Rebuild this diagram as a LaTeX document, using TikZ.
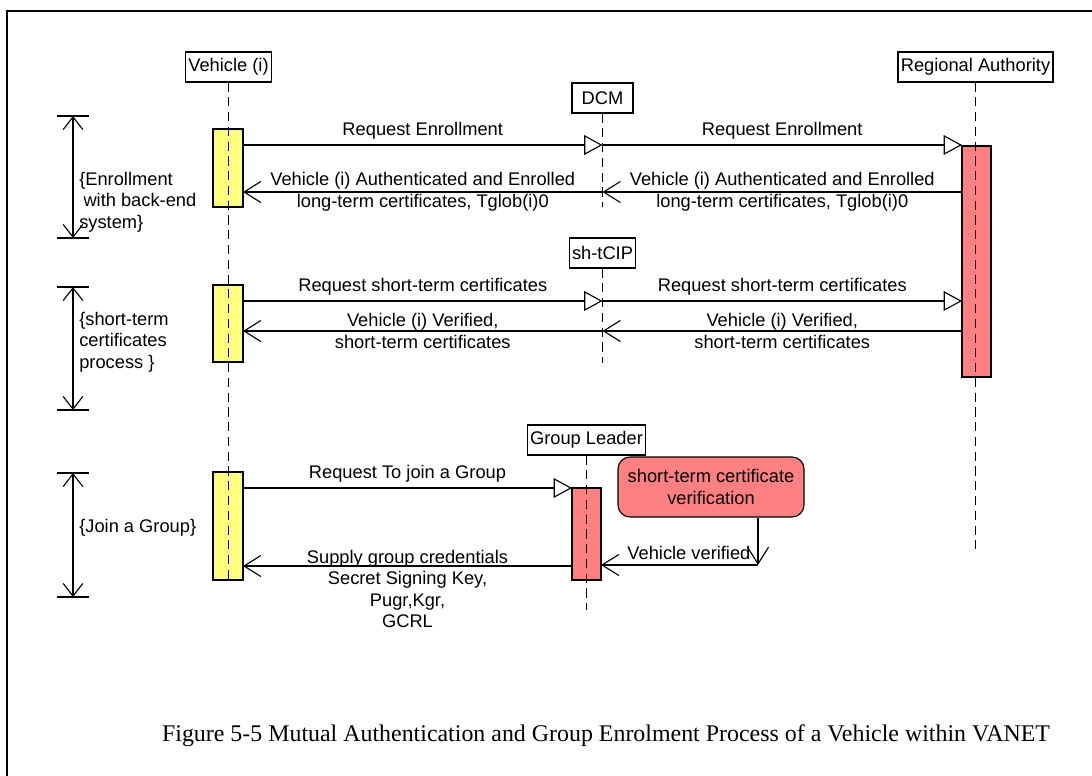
\documentclass[tikz,border=0pt]{standalone}
\usepackage{fontspec}
\setmainfont{Liberation Sans}
\newfontfamily\capfont{Liberation Serif}
\usetikzlibrary{arrows.meta}
\newlength\pxu
\setlength\pxu{0.025cm}
\definecolor{actyellow}{HTML}{FFFF80}
\definecolor{actred}{HTML}{FF8080}
\tikzset{
  every node/.style={font=\fontsize{13}{15.3}\selectfont},
  actor/.style={draw, fill=white, line width=0.8pt, minimum height=30\pxu, minimum width=61\pxu, inner xsep=2pt, inner ysep=0pt},
  lifeline/.style={line width=0.8pt, dash pattern=on 6.5pt off 4pt},
  act/.style={draw, line width=0.8pt, inner sep=0pt, outer sep=0pt},
  msg/.style={line width=0.8pt, -{Triangle[open, length=13pt, width=14pt]}},
  reply/.style={line width=0.8pt, -{Straight Barb[length=12pt, width=15pt]}},
  span/.style={line width=0.8pt, {Straight Barb[length=9pt, width=14pt]}-{Straight Barb[length=9pt, width=14pt]}},
  tick/.style={line width=0.8pt},
}
\begin{document}
\begin{tikzpicture}[x=0.025cm, y=-0.025cm]
\useasboundingbox (0,0) rectangle (1092,776);
\draw[line width=0.8pt] (1092,11) -- (7,11) -- (7,776);
% participants
\node[actor] (veh) at (228.5,67) {Vehicle (i)};
\node[actor] (dcm) at (602.5,98) {DCM};
\node[actor] (cip) at (602.5,253) {sh-tCIP};
\node[actor] (gl) at (586.5,440) {Group Leader};
\node[actor] (ra) at (975.5,67) {Regional Authority};
% activations
\node[act, fill=actyellow, minimum width=30\pxu, minimum height=78\pxu] (va1) at (228,168) {};
\node[act, fill=actyellow, minimum width=30\pxu, minimum height=77\pxu] (va2) at (228,323.5) {};
\node[act, fill=actyellow, minimum width=30\pxu, minimum height=108\pxu] (va3) at (228,526) {};
\node[act, fill=actred, minimum width=29\pxu, minimum height=231\pxu] (ra1) at (976.5,261.5) {};
\node[act, fill=actred, minimum width=29\pxu, minimum height=92\pxu] (gl1) at (586.5,534) {};
% lifelines
\coordinate (vehend) at (228.5,582);
\coordinate (dcmend) at (602.5,207);
\coordinate (cipend) at (602.5,363);
\coordinate (glend) at (586.5,610);
\coordinate (raend) at (975.5,552);
\draw[lifeline] (veh.south) -- (vehend);
\draw[lifeline] (dcm.south) -- (dcmend);
\draw[lifeline] (cip.south) -- (cipend);
\draw[lifeline] (gl.south) -- (glend);
\draw[lifeline] (ra.south) -- (raend);
% enrollment
\coordinate (dcmA) at (602.5,145);
\coordinate (dcmB) at (602.5,192);
\draw[msg] (va1.east |- dcmA) -- (dcmA) node[midway, above] {Request Enrollment};
\draw[msg] (dcmA) -- (ra1.west |- dcmA) node[midway, above] {Request Enrollment};
\draw[reply] (ra1.west |- dcmB) -- (dcmB) node[midway, align=center] {Vehicle (i) Authenticated and Enrolled\\long-term certificates, Tglob(i)0};
\draw[reply] (dcmB) -- (va1.east |- dcmB) node[midway, align=center] {Vehicle (i) Authenticated and Enrolled\\long-term certificates, Tglob(i)0};
% short-term certificates
\coordinate (cipA) at (602.5,301);
\coordinate (cipB) at (602.5,331);
\draw[msg] (va2.east |- cipA) -- (cipA) node[midway, above] {Request short-term certificates};
\draw[msg] (cipA) -- (ra1.west |- cipA) node[midway, above] {Request short-term certificates};
\draw[reply] (ra1.west |- cipB) -- (cipB) node[midway, align=center] {Vehicle (i) Verified,\\short-term certificates};
\draw[reply] (cipB) -- (va2.east |- cipB) node[midway, align=center] {Vehicle (i) Verified,\\short-term certificates};
% join a group
\node[draw, fill=actred, line width=0.8pt, rounded corners=12\pxu, minimum width=186\pxu, minimum height=60\pxu, align=center, inner sep=0pt] (chk) at (711,487) {short-term certificate\\verification};
\coordinate (glA) at (586.5,488);
\coordinate (vv) at (758,565);
\coordinate (glB) at (586.5,566);
\draw[msg] (va3.east |- glA) -- (gl1.west |- glA) node[midway, above] {Request To join a Group};
\draw[reply] (chk.south -| vv) -- (vv);
\draw[reply] (vv) -- (gl1.east |- vv) node[pos=0.44, above] {Vehicle verified};
\draw[reply] (gl1.west |- glB) -- (va3.east |- glB) node[midway, anchor=north, yshift=15pt, align=center] {Supply group credentials\\Secret Signing Key,\\Pugr,Kgr,\\GCRL};
% phases
\coordinate (s1t) at (73,116);
\coordinate (s1b) at (73,238);
\coordinate (s2t) at (73,287);
\coordinate (s2b) at (73,410);
\coordinate (s3t) at (73,473);
\coordinate (s3b) at (73,597);
\draw[span] (s1t) -- (s1b);
\draw[span] (s2t) -- (s2b);
\draw[span] (s3t) -- (s3b);
\draw[tick] ([xshift=-16\pxu]s1t) -- ([xshift=16\pxu]s1t);
\draw[tick] ([xshift=-16\pxu]s1b) -- ([xshift=16\pxu]s1b);
\draw[tick] ([xshift=-16\pxu]s2t) -- ([xshift=16\pxu]s2t);
\draw[tick] ([xshift=-16\pxu]s2b) -- ([xshift=16\pxu]s2b);
\draw[tick] ([xshift=-16\pxu]s3t) -- ([xshift=16\pxu]s3t);
\draw[tick] ([xshift=-16\pxu]s3b) -- ([xshift=16\pxu]s3b);
\node[anchor=west, align=left, inner sep=0pt] (ph1) at (79,202) {\{Enrollment\\\hspace*{3pt}with back-end\\system\}};
\node[anchor=west, align=left, inner sep=0pt] (ph2) at (79,342) {\{short-term\\certificates\\process \}};
\node[anchor=west, inner sep=0pt] (ph3) at (79,528) {\{Join a Group\}};
% caption
\node[font=\capfont\fontsize{17}{20}\selectfont] (cap) at (606,736) {Figure 5-5 Mutual Authentication and Group Enrolment Process of a Vehicle within VANET};
\end{tikzpicture}
\end{document}
